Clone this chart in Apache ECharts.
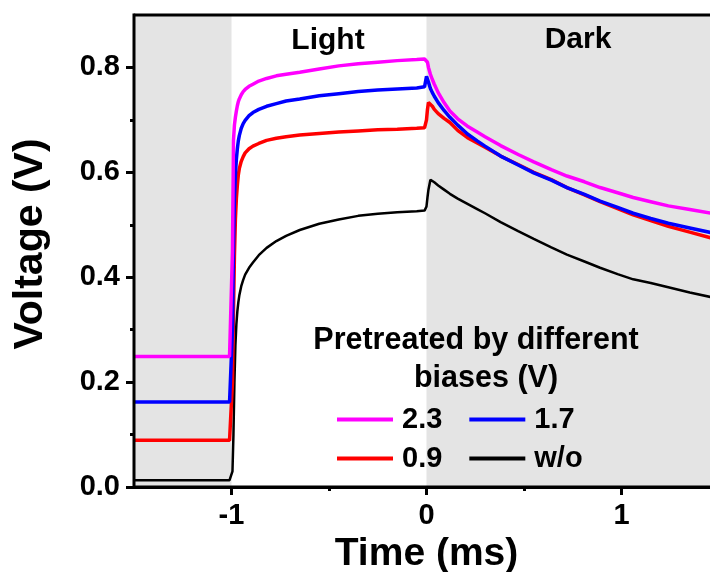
<!DOCTYPE html>
<html>
<head>
<meta charset="utf-8">
<script src="https://cdn.jsdelivr.net/npm/echarts@6/dist/echarts.min.js"></script>
<style>
  html, body { margin: 0; padding: 0; background: #fff; }
  #chart { width: 710px; height: 572px; }
</style>
</head>
<body>
<div id="chart"></div>
<script>
// time axis (ms), shared by every trace
var time = [-1.5, -1.2, -1.01, -1.0, -0.995, -0.99, -0.985, -0.98, -0.975, -0.97, -0.965, -0.96,
  -0.95, -0.94, -0.93, -0.91, -0.89, -0.86, -0.82, -0.77, -0.72, -0.65,
  -0.55, -0.45, -0.35, -0.25, -0.15, -0.05, -0.01,
  0.0, 0.005, 0.01, 0.02, 0.03, 0.04, 0.06, 0.09, 0.12, 0.16, 0.21, 0.26, 0.3,
  0.38, 0.47, 0.55, 0.64, 0.72, 0.81, 0.89, 0.98, 1.06, 1.15, 1.24, 1.35, 1.46, 1.5];

// voltage (V) for each pretreatment bias
var v23 = [0.249, 0.249, 0.249, 0.25, 0.45, 0.66, 0.69, 0.705, 0.717, 0.727, 0.735, 0.74,
  0.748, 0.754, 0.758, 0.764, 0.768, 0.774, 0.779, 0.784, 0.787, 0.791,
  0.797, 0.803, 0.807, 0.81, 0.813, 0.815, 0.816,
  0.818, 0.81, 0.8, 0.787, 0.777, 0.768, 0.752, 0.733, 0.717, 0.702, 0.688, 0.677, 0.668,
  0.651, 0.634, 0.62, 0.605, 0.593, 0.582, 0.571, 0.561, 0.552, 0.544, 0.536, 0.529, 0.522, 0.52];
var v17 = [0.162, 0.162, 0.162, 0.162, 0.3, 0.45, 0.55, 0.595, 0.625, 0.645, 0.66, 0.67,
  0.684, 0.693, 0.699, 0.708, 0.714, 0.72, 0.726, 0.731, 0.736, 0.74,
  0.746, 0.75, 0.754, 0.757, 0.759, 0.761, 0.763,
  0.783, 0.78, 0.772, 0.76, 0.752, 0.745, 0.733, 0.718, 0.705, 0.69, 0.673, 0.66, 0.65,
  0.631, 0.614, 0.599, 0.585, 0.571, 0.558, 0.545, 0.533, 0.522, 0.512, 0.503, 0.494, 0.485, 0.482];
var v09 = [0.089, 0.089, 0.089, 0.089, 0.2, 0.33, 0.44, 0.51, 0.55, 0.575, 0.595, 0.607,
  0.621, 0.63, 0.637, 0.645, 0.65, 0.655, 0.661, 0.665, 0.668, 0.671,
  0.674, 0.677, 0.679, 0.681, 0.682, 0.684, 0.685,
  0.7, 0.72, 0.733, 0.73, 0.726, 0.72, 0.712, 0.703, 0.695, 0.68, 0.666, 0.656, 0.648,
  0.631, 0.615, 0.6, 0.586, 0.571, 0.557, 0.544, 0.531, 0.519, 0.508, 0.497, 0.486, 0.475, 0.471];
var vNone = [0.013, 0.013, 0.013, 0.013, 0.03, 0.1, 0.2, 0.27, 0.31, 0.335, 0.352, 0.365,
  0.383, 0.395, 0.405, 0.418, 0.428, 0.442, 0.456, 0.469, 0.479, 0.49,
  0.502, 0.51, 0.517, 0.521, 0.524, 0.526, 0.527,
  0.535, 0.552, 0.567, 0.586, 0.584, 0.581, 0.575, 0.567, 0.559, 0.55, 0.54, 0.53, 0.522,
  0.505, 0.488, 0.473, 0.457, 0.443, 0.43, 0.418, 0.406, 0.396, 0.389, 0.381, 0.371, 0.362, 0.358];

var xMajor = [-1, 0, 1];
var xMinor = [-0.5, 0.5];
var yMajor = [0, 0.2, 0.4, 0.6, 0.8];
var yMinor = [0.1, 0.3, 0.5, 0.7];

var FONT = '"Liberation Sans", Arial, sans-serif';

function pairs(ys) {
  return time.map(function (t, i) { return [t, ys[i]]; });
}

var chartDom = document.getElementById("chart");
var myChart = echarts.init(chartDom);

var lineAxis = { show: true, onZero: false, lineStyle: { color: "#000", width: 3 } };
var tickStyle = { width: 3, color: "#000" };
var labelFont = { fontSize: 29, fontWeight: "bold", color: "#000", fontFamily: FONT };

var option = {
  animation: false,
  backgroundColor: "#fff",
  textStyle: { fontFamily: FONT },
  grid: {
    left: 134,
    top: 15,
    width: 585,
    height: 472,
    // frame drawn above the shaded bands
    show: true,
    z: 10,
    borderColor: "#000",
    borderWidth: 3,
    backgroundColor: "rgba(0,0,0,0)",
    outerBoundsMode: "none",
    containLabel: false,
  },
  xAxis: [
    {
      type: "value",
      position: "bottom",
      min: -1.5,
      max: 1.5,
      interval: 0.5,
      name: "Time (ms)",
      nameLocation: "middle",
      nameGap: 44,
      nameTextStyle: { fontSize: 39, fontWeight: "bold", color: "#000", fontFamily: FONT },
      axisLine: lineAxis,
      axisTick: { show: true, customValues: xMajor, length: 8, lineStyle: tickStyle },
      axisLabel: Object.assign({ customValues: xMajor, margin: 14 }, labelFont),
      splitLine: { show: false },
    },
    {
      type: "value",
      position: "bottom",
      min: -1.5,
      max: 1.5,
      interval: 0.5,
      axisLine: { show: false, onZero: false },
      axisTick: { show: true, customValues: xMinor, length: 4, lineStyle: tickStyle },
      axisLabel: { show: false },
      splitLine: { show: false },
    },
  ],
  yAxis: [
    {
      type: "value",
      position: "left",
      min: 0,
      max: 0.9,
      interval: 0.2,
      axisLine: lineAxis,
      axisTick: { show: true, customValues: yMajor, length: 8, lineStyle: tickStyle },
      axisLabel: Object.assign({
        customValues: yMajor,
        margin: 14,
        formatter: function (v) { return v.toFixed(1); },
      }, labelFont),
      splitLine: { show: false },
    },
    {
      type: "value",
      position: "left",
      min: 0,
      max: 0.9,
      interval: 0.2,
      axisLine: { show: false, onZero: false },
      axisTick: { show: true, customValues: yMinor, length: 4, lineStyle: tickStyle },
      axisLabel: { show: false },
      splitLine: { show: false },
    },
  ],
  legend: [
    {
      data: ["2.3", "1.7"],
      left: 337,
      top: 405,
      padding: 0,
      icon: "rect",
      itemWidth: 56,
      itemHeight: 4,
      itemGap: 27,
      textStyle: Object.assign({ padding: [0, 0, 0, 4] }, labelFont),
    },
    {
      data: ["0.9", "w/o"],
      left: 337,
      top: 444,
      padding: 0,
      icon: "rect",
      itemWidth: 56,
      itemHeight: 4,
      itemGap: 27,
      textStyle: Object.assign({ padding: [0, 0, 0, 4] }, labelFont),
    },
  ],
  graphic: [
    { type: "text", x: 31, y: 244, rotation: Math.PI / 2, z: 10,
      style: { text: "Voltage (V)", font: "bold 41px " + FONT, fill: "#000", align: "center", verticalAlign: "middle" } },
    { type: "text", x: 328, y: 41, z: 10,
      style: { text: "Light", font: "bold 30px " + FONT, fill: "#000", align: "center", verticalAlign: "middle" } },
    { type: "text", x: 578, y: 40, z: 10,
      style: { text: "Dark", font: "bold 30px " + FONT, fill: "#000", align: "center", verticalAlign: "middle" } },
    { type: "text", x: 476, y: 341, z: 10,
      style: { text: "Pretreated by different", font: "bold 30.5px " + FONT, fill: "#000", align: "center", verticalAlign: "middle" } },
    { type: "text", x: 486, y: 379, z: 10,
      style: { text: "biases (V)", font: "bold 30.5px " + FONT, fill: "#000", align: "center", verticalAlign: "middle" } },
  ],
  series: [
    {
      name: "shade",
      type: "line",
      data: [],
      silent: true,
      markArea: {
        silent: true,
        itemStyle: { color: "#e4e4e4" },
        data: [
          [{ xAxis: -1.5 }, { xAxis: -1 }],
          [{ xAxis: 0 }, { xAxis: 1.5 }],
        ],
      },
    },
    {
      name: "w/o",
      type: "line",
      data: pairs(vNone),
      symbol: "none",
      z: 3,
      color: "#000000",
      lineStyle: { width: 2.5, color: "#000000" },
    },
    {
      name: "0.9",
      type: "line",
      data: pairs(v09),
      symbol: "none",
      z: 3,
      color: "#ff0000",
      lineStyle: { width: 3.5, color: "#ff0000" },
    },
    {
      name: "1.7",
      type: "line",
      data: pairs(v17),
      symbol: "none",
      z: 3,
      color: "#0000ff",
      lineStyle: { width: 3.5, color: "#0000ff" },
    },
    {
      name: "2.3",
      type: "line",
      data: pairs(v23),
      symbol: "none",
      z: 3,
      color: "#ff00ff",
      lineStyle: { width: 3.5, color: "#ff00ff" },
    },
  ],
};

myChart.setOption(option);
window.addEventListener("resize", myChart.resize);
</script>
</body>
</html>
